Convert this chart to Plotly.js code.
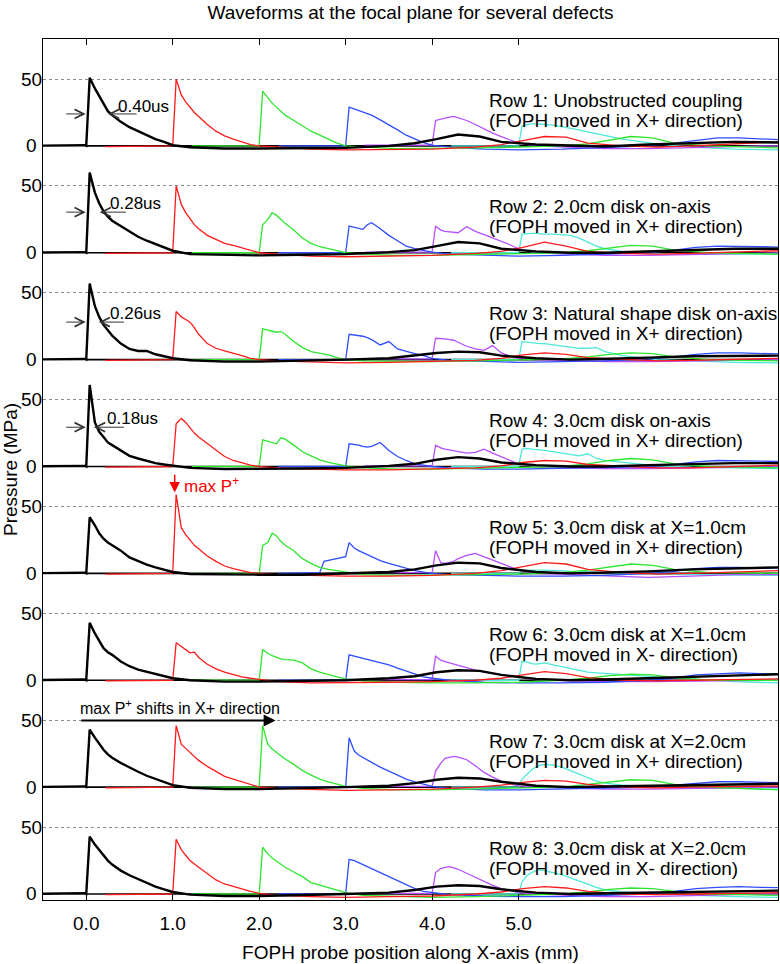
<!DOCTYPE html>
<html><head><meta charset="utf-8">
<script src="https://cdn.plot.ly/plotly-3.0.1.min.js"></script>
<style>html,body{margin:0;padding:0;background:#fff}#plot{width:780px;height:964px}</style>
</head><body><div id="plot"></div>
<script>
// relative time grid (x units after each pulse arrival)
const T = [-0.78,-0.3,-0.25,-0.02,0,0.04,0.1,0.15,0.2,0.25,0.3,0.4,0.5,0.6,0.7,0.8,0.9,1.0,1.2,1.6,2.0,2.5,3.0,3.5,3.8,4.05,4.3,4.55,4.8,5.2,5.6,6.0,6.5,7.0,7.5,8.0];
// probe positions (mm) where each coloured waveform arrives
const probePos = [0, 1, 2, 3, 4, 5];
const traceColors = ['#000000', '#ff1a1a', '#2ee62e', '#2f4dff', '#b64dff', '#4de8d8'];
// row baselines on the shared pressure axis (MPa)
const rowBase = [560, 480, 400, 320, 240, 160, 80, 0];

const blackY = [
 [0,0.5,0,0.5,0, 51,43,37,31,26,23,18,14,11,8,5,3,0.5, -1,-2,-2,-2,-1.5,0,2,5,8.5,7,3,1,0,-0.5,1,2,3,2.5],
 [0,0.5,0,0.5,0, 60,45,37,31,27,24,20,16,12,9,6.5,4,1.5, -1,-1.5,-2,-1.5,-1,0.5,2,5,8,7,3,1,0,0,1,2,3,3],
 [0,0.5,0,0.5,0, 57,40,32,26,22,18,12,8,6.5,6.5,4,2.5,1, -0.5,-1.5,-1.5,-1,0,1,3,5,6,5.5,3,1,0,0.5,1.5,2.5,3,3],
 [0,0.5,0,0.5,0, 61,33,26,22,18,16,12,8,6,4,2.5,1.5,0.5, -1,-2,-2,-1.5,-1,0.5,2,5,7,6,3,1,0,0,1,2,2.5,2.5],
 [0,0.5,0,0.5,0, 42,36,30,26,23,21,17,12,9,6.5,4.5,3,1, -0.5,-1,-1,-1,0,1,3,6,8,7.5,4,1,0,0.5,1.5,3,4,4.5],
 [0,0.5,0,0.5,0, 43,35,29,24,21,19,14,10.5,8,6.5,5,3,1.5, 0,-1,-1,-0.5,0,1.5,3,6,7.5,7,4,1,0,0.5,1.5,3,4,4.5],
 [0,0.5,0,0.5,0, 43,37,32,28,24.5,22,18,14.5,11.5,8.5,6,3.5,1.5, -0.5,-1.5,-1.5,-1,0,1,3,5.5,7,6.5,4,1,0,0.5,1,2,2.5,2.5],
 [0,0.5,0,0.5,0, 43,37,33,28.5,25,22,17.5,14,11,8.5,5.5,3.5,1.5, -0.5,-1.5,-1.5,-1,0,1,3,5.5,6.5,6,3.5,1,0,0.5,1,2,2.5,2.5]
];
const redY = [
 [-0.5,-0.5,-0.5,0,0, 50,38,33,29,25,22,16,11,7.5,5,3,1,0, -1,-2.5,-3,-3,-2.5,-1,1,4,7,6.5,2,0,-1,0,1.5,3],
 [-0.5,-0.5,-0.5,0,0, 50,36,30,25,21,18,13,10,7,5.5,3.5,1.5,0, -1,-2.5,-3,-2.5,-2,-0.5,1,4,8,5,1,-0.5,-1,-0.5,0.5,1.5],
 [-0.5,-0.5,-0.5,0,0, 36,32,30,28,24,19,12,8.5,6.5,5,3,1,0, -1,-2,-2.5,-2,-1.5,-0.5,1,3.5,5,4,1.5,0,-1,-0.5,0.5,1],
 [-0.5,-0.5,-0.5,0,0, 32,36,33,29,25,22,17,12,7.5,4.5,2.5,1,0, -1,-2,-2.5,-2.5,-2,-1,0.5,3,4.5,4,1.5,0,-1,-1,0,1],
 [-0.5,-0.5,-0.5,0,0, 59,34,29,25,21,18.5,13,9,5.5,3.5,2,0.5,0, -1,-1.5,-2,-2,-1.5,0,2,5,8,7,3,0.5,-0.5,0,1,2],
 [-0.5,-0.5,-0.5,0,0, 28,25,22.5,20.5,21,17,12,8.5,6,4,2.5,1.5,0.5, -1,-2,-2,-1.5,-1,0,1.5,4,6.5,5,2,0,-0.5,0,0.5,1],
 [-0.5,-0.5,-0.5,0,0, 46,32,29,26,23,20,15.5,12,8,6,4,1.5,0, -1,-2,-2.5,-2,-1.5,0,1.5,3.5,5,4.5,2,0,-0.5,0,0.5,1],
 [-0.5,-0.5,-0.5,0,0, 41,33,29,25,22.5,20,15,10.5,7.5,5.5,3.5,2,0.5, -1,-2,-2.5,-2,-1.5,0,1.5,4,5.5,4.5,2,0,-0.5,0,0.5,1]
];
const greenY = [
 [0,0,0,0,0, 41,36,32,29,26,23,19,15,11,8,5,2,0, -1,-2,-2,-1.5,-1,0,1.5,4,7,6,2,0,-1,-1.5],
 [0,0,0,0,0, 21,25,30,28,25,22,17,11,7,4.5,3,1.5,0, -1,-2,-2,-1.5,-1,0,1.5,3.5,5.5,5,2,0,-0.5,-1],
 [0,0,0,0,0, 23,22,21,20.5,21,19,13.5,9,6,5,3.5,1.5,0, -1,-1.5,-1.5,-1,-0.5,0.5,2,4,5,4.5,2,0,-0.5,-1],
 [0,0,0,0,0, 20,19,18,17,21.5,20.5,16,11,8,5,3,1.5,0.5, -1,-2,-2,-1.5,-1,0,2,4.5,6,5,2,0,-0.5,-1],
 [0,0,0,0,0, 21,23,30,28,24,21,17,11,7.5,4.5,3,2,0.5, -1,-1.5,-1.5,-1,-0.5,0.5,2.5,5,7,6,3,0.5,0,0],
 [0,0,0,0,0, 23,20,18.5,17,16,15.5,15,13,8.5,6,4,2.5,1, -0.5,-1.5,-2,-2,-1.5,0,1.5,3.5,4.5,4,2,0,0,0],
 [0,0,0,0,0, 46,32,28.5,26,23.5,21,17,12.5,9,6,4,2,0.5, -1,-2,-2,-1.5,-1,0,2,4,5.5,5,2,0,-1,-2],
 [0,0,0,0,0, 35,30,27,24.5,22,20,16.5,13,8.5,6.5,5,3,1, -1,-2,-2.5,-2,-1,0,1.5,3.5,4.5,4,2,0,-0.5,-1]
];
const blueY = [
 [0,0,0,0,0, 29,27.5,26.5,25.5,24,23,19.5,16,12,8,5,2.5,0.5, -1,-2.5,-3,-2.5,-1.5,0,2,4,6,6,5,4],
 [0,0,0,0,0, 20,19,18,17.5,21,22.5,18,13,9,5,3,1.5,0.5, -1,-2,-2.5,-2,-1,0,2,4,5,5,4.5,4],
 [0,0,0,0,0, 19,18.5,18,17.5,16.5,15,11,13.5,8,6,4.5,3,1, -0.5,-1.5,-2,-1.5,-1,0.5,2,4,5,5,4.5,4],
 [0,0,0,0,0, 17,16.5,16,15,14.5,15,18,12,7.5,4.5,2,1,0, -1,-2,-2,-1.5,-1,0,1.5,3.5,4.5,4.5,4,3.5],
 [0,0.5,9,12,12.5, 23,19,17,15.5,14,12.5,9.5,7.5,5.5,3.5,2,1,0, -1,-1.5,-2,-2,-1.5,0,1.5,3.5,4.5,4.5,4,4],
 [0,0,0,0,0, 19,18,17.5,16.5,16,15,13.5,11.5,9,7,4.5,2.5,1.5, 0,-1.5,-2,-2,-1.5,0,1.5,4,5,5.5,5,5],
 [0,0,0,0,0, 37,27,24,22,20.5,18.5,15,12,9,6,4,2,0.5, -1,-2,-2,-1.5,-1,0,1.5,3,4,4,3.5,3],
 [0,0,0,0,0, 26,25,23.5,22,20.5,19,16,13,10,7,4,2,1, -0.5,-1.5,-2,-2,-1,0,2,4,5,5.5,5,4.5]
];
const magentaY = [
 [0.5,0.5,0.5,0.5,0.5, 19,20,21,21.5,22,21,19,16,12.5,9.5,7,4.5,2, 0,-1,-2,-2,-1.5,-0.5,0,0],
 [0.5,0.5,0.5,0.5,0.5, 20,17,16,15.5,15.5,15,19.5,16,13.5,11,9,6,3, 0,-1,-2,-2,-1.5,-1,-0.5,0],
 [0.5,0.5,0.5,0.5,0.5, 16,16,15.5,15,14.5,13,10,8,7,10.5,5,2.5,1, 0,-1,-1.5,-1.5,-1,-0.5,0,0],
 [0.5,0.5,0.5,0.5,0.5, 16,14,13,12.5,12,11.5,10,10.5,13,10,7,4.5,2, 0,-1,-1.5,-1.5,-1,-0.5,0,0],
 [0.5,0.5,0.5,0.5,0.5, 17,8,7.5,8,9,11,13.5,15,12.5,10,7,4.5,2.5, 0,-1,-2,-3,-2,-1,-1,-1],
 [0.5,0.5,0.5,0.5,0.5, 18,15,14,13,12,11,9,7.5,6,5,4,3,2, 0.5,-0.5,-1,-1,-0.5,0,0,0],
 [0.5,0.5,0.5,0.5,0.5, 12,18,21.5,22.5,23,22.5,20.5,16,11,7.5,4.5,2.5,1, 0,-1,-1.5,-1.5,-1,-0.5,0,0],
 [0.5,0.5,0.5,0.5,0.5, 16,19,20,20.5,19.5,18.5,15.5,12.5,9,6.5,4,2.5,1, 0,-1,-2,-2,-1.5,-0.5,0,0]
];
const cyanY = [
 [0,0,0,0,0, 15,16,16.5,16.5,16,16,15.5,14.5,13.5,12,10.5,9,7.5, 5,1.5,-1,-2.5,-3],
 [0,0,0,0,0, 14,14.5,14.5,14.5,14,14,14,13.5,13,11,8,5,3, 1,-0.5,-1,-1,-1],
 [0,0,0,0,0, 13.5,13,12.5,12.5,12,12,11,10,9,8.5,8.5,9,6, 3,0,-1,-2,-2.5],
 [0,0,0,0,0, 13,13.5,13,13,12.5,12,11,10,8.5,8,9.5,6,4.5, 3,0.5,-0.5,-1,-1.5],
 [0,0,0,0,0, 2,2.5,2.5,2.5,2.5,2.5,2,2,1.5,1.5,1,1,0.5, 0,-0.5,-1,-1.5,-1.5],
 [0,0,0,0,0, 14,13.5,12.5,12,12.5,13,11.5,10,8.5,7,6,5.5,5, 4,2.5,1,-1,-2],
 [0,0,0,0,0, 6,10,13,15,16.5,17,16.5,15,12.5,10,7,4.5,3, 1.5,0,-0.5,-1,-1.5],
 [0,0,0,0,0, 9,14,16,17.5,18,17.5,16,14.5,12,9.5,7,5,3, 1.5,0,-1,-2,-2.5]
];
const seriesY = [blackY, redY, greenY, blueY, magentaY, cyanY];

const xTickVals = [0, 1, 2, 3, 4, 5];
const xTickText = ['0.0', '1.0', '2.0', '3.0', '4.0', '5.0'];
const rowTitles = ['Row 1: Unobstructed coupling', 'Row 2: 2.0cm disk on-axis', 'Row 3: Natural shape disk on-axis',
  'Row 4: 3.0cm disk on-axis', 'Row 5: 3.0cm disk at X=1.0cm', 'Row 6: 3.0cm disk at X=1.0cm',
  'Row 7: 3.0cm disk at X=2.0cm', 'Row 8: 3.0cm disk at X=2.0cm'];
const rowDirs = ['(FOPH moved in X+ direction)', '(FOPH moved in X+ direction)', '(FOPH moved in X+ direction)',
  '(FOPH moved in X+ direction)', '(FOPH moved in X+ direction)', '(FOPH moved in X- direction)',
  '(FOPH moved in X+ direction)', '(FOPH moved in X- direction)'];
const fwhmLabels = ['0.40us', '0.28us', '0.26us', '0.18us'];

const FONT = 'Liberation Sans, Arial, sans-serif';
const traces = [];
// draw order: cyan, magenta, blue, green, red, black (black on top)
for (let r = 0; r < rowBase.length; r++) {
  for (let c = seriesY.length - 1; c >= 0; c--) {
    const ys = seriesY[c][r];
    traces.push({
      type: 'scatter', mode: 'lines',
      x: T.slice(0, ys.length).map(t => probePos[c] + t),
      y: ys.map(v => v + rowBase[r]),
      line: {color: traceColors[c], width: c === 0 ? 2.4 : 1.3},
      hoverinfo: 'skip', showlegend: false
    });
  }
}

const annotations = [];
const shapes = [];
rowBase.forEach((b, r) => {
  shapes.push({type: 'line', xref: 'x', yref: 'y', x0: 0, x1: 8, y0: b, y1: b, layer: 'below',
    line: {color: '#000', width: 1.6}});
  annotations.push({xref: 'paper', yref: 'y', x: -0.015, y: b + 50, text: '50', showarrow: false,
    xanchor: 'center', yanchor: 'middle', font: {family: FONT, size: 19, color: '#000'}});
  annotations.push({xref: 'paper', yref: 'y', x: -0.015, y: b, text: '0', showarrow: false,
    xanchor: 'center', yanchor: 'middle', font: {family: FONT, size: 19, color: '#000'}});
  annotations.push({xref: 'x', yref: 'y', x: 4.635, y: b + 34.3, text: rowTitles[r], showarrow: false,
    xanchor: 'left', yanchor: 'middle', font: {family: FONT, size: 19, color: '#000'}});
  annotations.push({xref: 'x', yref: 'y', x: 4.635, y: b + 19.3, text: rowDirs[r], showarrow: false,
    xanchor: 'left', yanchor: 'middle', font: {family: FONT, size: 19, color: '#000'}});
});

// FWHM markers (rows 1-4)
const fwhmArrowY = [23.9, 30.4, 28.1, 29.4];
const fwhmRightHead = [0.252, 0.156, 0.145, 0.090];
const fwhmRightTail = [0.60, 0.476, 0.453, 0.453];
const fwhmTextX = [0.347, 0.254, 0.254, 0.217];
const fwhmTextY = [29.4, 36.6, 34.4, 35.7];
for (let r = 0; r < 4; r++) {
  const b = rowBase[r];
  annotations.push({xref: 'x', yref: 'y', axref: 'x', ayref: 'y', x: -0.006, y: b + fwhmArrowY[r],
    ax: -0.249, ay: b + fwhmArrowY[r], text: '', showarrow: true, arrowhead: 5, arrowsize: 1.8,
    arrowwidth: 1, arrowcolor: '#333'});
  annotations.push({xref: 'x', yref: 'y', axref: 'x', ayref: 'y', x: fwhmRightHead[r], y: b + fwhmArrowY[r],
    ax: fwhmRightTail[r], ay: b + fwhmArrowY[r], text: '', showarrow: true, arrowhead: 5, arrowsize: 1.8,
    arrowwidth: 1, arrowcolor: '#333'});
  annotations.push({xref: 'x', yref: 'y', x: fwhmTextX[r], y: b + fwhmTextY[r], text: fwhmLabels[r],
    showarrow: false, xanchor: 'left', yanchor: 'middle', font: {family: FONT, size: 17, color: '#000'}});
}

// max P+ marker (row 5)
annotations.push({xref: 'x', yref: 'y', axref: 'x', ayref: 'y', x: 1.023, y: rowBase[4] + 60.6,
  ax: 1.023, ay: rowBase[4] + 75, text: '', showarrow: true, arrowhead: 2, arrowsize: 1.4,
  arrowwidth: 1.5, arrowcolor: '#ff0000'});
annotations.push({xref: 'x', yref: 'y', x: 1.105, y: rowBase[4] + 65.8, text: 'max P<sup>+</sup>',
  showarrow: false, xanchor: 'left', yanchor: 'middle', font: {family: FONT, size: 17, color: '#ff0000'}});
// shift arrow (row 7)
annotations.push({xref: 'x', yref: 'y', axref: 'x', ayref: 'y', x: 2.19, y: rowBase[6] + 49.9,
  ax: -0.075, ay: rowBase[6] + 49.9, text: '', showarrow: true, arrowhead: 2, arrowsize: 1.2,
  arrowwidth: 2, arrowcolor: '#000'});
annotations.push({xref: 'x', yref: 'y', x: -0.1, y: rowBase[6] + 59.8,
  text: 'max P<sup>+</sup> shifts in X+ direction', showarrow: false, xanchor: 'left', yanchor: 'middle',
  font: {family: FONT, size: 16, color: '#000'}});

const layout = {
  width: 780, height: 964,
  margin: {l: 43, r: 2, t: 39, b: 64},
  paper_bgcolor: '#fff', plot_bgcolor: '#fff',
  showlegend: false, hovermode: false,
  title: {text: 'Waveforms at the focal plane for several defects', font: {family: FONT, size: 19, color: '#000'},
    xref: 'paper', x: 0.5, xanchor: 'center', yref: 'container', y: 0.9876, yanchor: 'middle'},
  xaxis: {range: [-0.5, 8], tickvals: xTickVals, ticktext: xTickText, ticks: 'inside', ticklen: 6,
    tickcolor: '#000', showline: true, linecolor: '#000', linewidth: 1, mirror: 'ticks',
    showgrid: false, zeroline: false, ticklabelstandoff: 6,
    tickfont: {family: FONT, size: 19, color: '#000'},
    title: {text: 'FOPH probe position along X-axis (mm)', font: {family: FONT, size: 19, color: '#000'}, standoff: 12}},
  yaxis: {range: [-4.5, 640], tickvals: rowBase.map(b => b + 50), showticklabels: false, ticks: '',
    showgrid: true, gridcolor: '#8a8a8a', gridwidth: 1, griddash: 'dot',
    showline: true, linecolor: '#000', linewidth: 1, mirror: true, zeroline: false,
    title: {text: 'Pressure (MPa)', font: {family: FONT, size: 19, color: '#000'}, standoff: 22}},
  shapes: shapes,
  annotations: annotations
};

Plotly.newPlot('plot', traces, layout, {staticPlot: true, displayModeBar: false});
</script>
</body></html>
